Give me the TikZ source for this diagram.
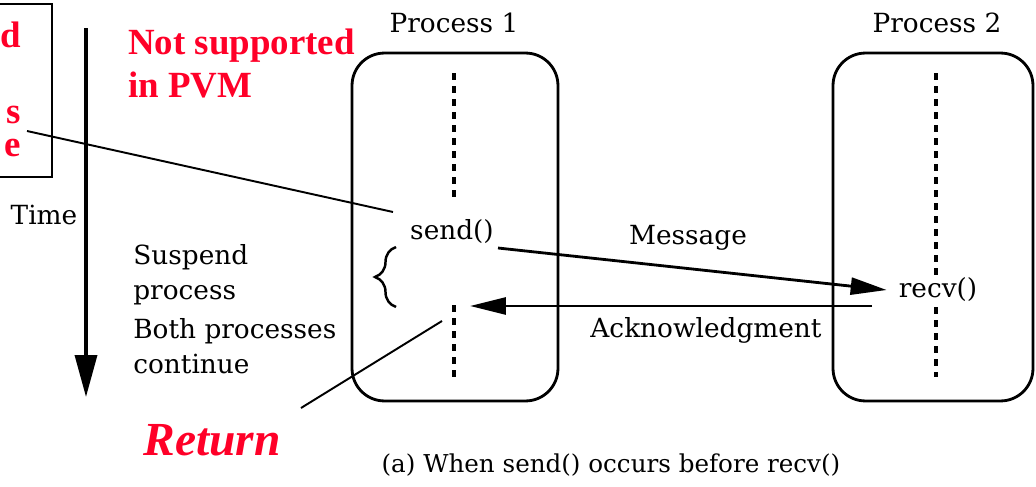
\documentclass[tikz,border=0pt]{standalone}
\usepackage{fontspec}
\setmainfont{DejaVu Serif}
\newfontfamily\notefont{Liberation Serif}
\usetikzlibrary{arrows.meta,decorations.pathreplacing}
\definecolor{pvmred}{RGB}{255,0,40}
\tikzset{
  proc/.style={draw, line width=1.6pt, rounded corners=0.65cm, minimum height=6.96cm},
  lbl/.style={inner sep=0pt, font=\fontsize{15}{19.7}\selectfont},
  note/.style={inner sep=0pt, text=pvmred, font=\notefont\bfseries\fontsize{21}{24.5}\selectfont},
  lifeline/.style={line width=2.2pt, dash pattern=on 4pt off 3.4pt},
  msg/.style={line width=1.6pt, -{Triangle[length=0.72cm, width=0.34cm]}},
  pointer/.style={line width=1.1pt}
}
\begin{document}
\begin{tikzpicture}[x=0.02cm, y=-0.02cm]
  \useasboundingbox (0,0) rectangle (1036,487);

  % cut-off note box on the left
  \draw[line width=1.3pt] (-10,4) rectangle (52,177);
  \node[note, anchor=north east, align=right, font=\notefont\bfseries\fontsize{21}{19}\selectfont] (blk) at (21,22) {d\\[24pt]s\\e};

  % time axis
  \coordinate (ttop) at (86,28);
  \coordinate (tbot) at (86,397);
  \draw[line width=2pt, -{Triangle[length=0.84cm, width=0.44cm]}] (ttop) -- (tbot);
  \node[lbl] (time) at (44,215) {Time};

  \node[note, anchor=west, align=left] (pvm) at (128,63) {Not supported\\in PVM};

  % the two processes
  \node[proc, minimum width=4.12cm] (p1) at (455,227) {};
  \node[proc, minimum width=4.0cm] (p2) at (933,227) {};
  \node[lbl] (p1name) at (454,23) {Process 1};
  \node[lbl] (p2name) at (937,23) {Process 2};

  \coordinate (l1a) at (454,73);
  \coordinate (l1b) at (454,203);
  \coordinate (l1c) at (454,305);
  \coordinate (l1d) at (454,377);
  \coordinate (l2a) at (936,73);
  \coordinate (l2b) at (936,377);
  \draw[lifeline] (l1a) -- (l1b);
  \draw[lifeline] (l1c) -- (l1d);
  \draw[lifeline] (l2a) -- (l2b);

  \node[lbl] (send) at (452,232) {send()};
  \node[lbl, fill=white, inner sep=1pt] (recv) at (938,290) {recv()};

  % message and acknowledgment
  \coordinate (msgstart) at (498,248);
  \draw[msg] (msgstart) -- ([xshift=-0.2cm]recv.west);
  \node[lbl] (message) at (688,238) {Message};
  \coordinate (ackstart) at (872,306);
  \coordinate (ackend) at (470,306);
  \draw[msg] (ackstart) -- (ackend);
  \node[lbl] (ack) at (706,330) {Acknowledgment};

  % brace and explanations
  \coordinate (brbot) at (396,307);
  \coordinate (brtop) at (396,247);
  \draw[line width=1.4pt, decorate, decoration={brace, amplitude=0.42cm}] (brbot) -- (brtop);
  \node[lbl, anchor=west, align=left] (suspend) at (133,275) {Suspend\\process};
  \node[lbl, anchor=west, align=left] (cont) at (133,346) {Both processes\\continue};

  % pointers
  \coordinate (blkpt) at (27,131);
  \coordinate (sendpt) at (393,212);
  \draw[pointer] (blkpt) -- (sendpt);
  \node[note, font=\notefont\bfseries\itshape\fontsize{27}{30}\selectfont] (ret) at (212,440) {Return};
  \coordinate (retpt) at (301,408);
  \coordinate (retend) at (442,321);
  \draw[pointer] (retpt) -- (retend);

  \node[lbl, font=\fontsize{14}{17}\selectfont] (caption) at (611,465) {(a) When send() occurs before recv()};
\end{tikzpicture}
\end{document}
